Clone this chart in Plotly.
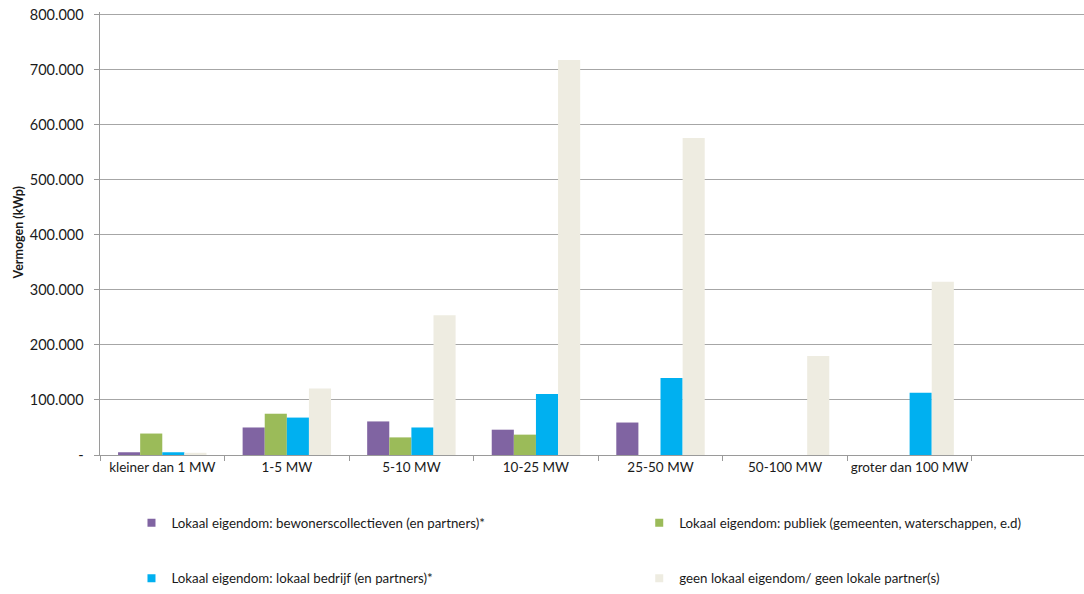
import plotly.graph_objects as go

categories = ["kleiner dan 1 MW", "1-5 MW", "5-10 MW", "10-25 MW", "25-50 MW",
              "50-100 MW", "groter dan 100 MW", ""]

series_names = [
    "Lokaal eigendom: bewonerscollectieven (en partners)*",
    "Lokaal eigendom: publiek (gemeenten, waterschappen, e.d)",
    "Lokaal eigendom: lokaal bedrijf (en partners)*",
    "geen lokaal eigendom/ geen lokale partner(s)",
]
bewoners = [5000, 50000, 61000, 46000, 59000, 0, 0, None]
publiek = [39000, 75000, 32000, 37000, 0, 0, 0, None]
bedrijf = [5000, 68000, 50000, 111000, 140000, 0, 113000, None]
geen = [4000, 121000, 254000, 718000, 576000, 180000, 315000, None]

y_tick_vals = [0, 100000, 200000, 300000, 400000, 500000, 600000, 700000, 800000]
y_tick_labels = ["-", "100.000", "200.000", "300.000", "400.000", "500.000",
                 "600.000", "700.000", "800.000"]
y_title = "Vermogen (kWp)"

colors = ["#8064A2", "#9BBB59", "#00B0F0", "#EEECE1"]
values = [bewoners, publiek, bedrijf, geen]
legend_ids = ["legend", "legend2", "legend3", "legend4"]

FONT = "Lato"
PAD = "\u00a0\u00a0"  # extra gap between tick labels and axis

fig = go.Figure()
for name, vals, col in zip(series_names, values, colors):
    fig.add_trace(go.Bar(x=categories, y=vals, name=name, marker_color=col,
                         marker_line_width=0, showlegend=False))
# legend-only entries with small square swatches
for name, col, lg in zip(series_names, colors, legend_ids):
    fig.add_trace(go.Scatter(x=[None], y=[None], mode="markers", name=name,
                             marker=dict(symbol="square", size=8, color=col),
                             legend=lg, showlegend=True))

legend_pos = {"legend": (0.032, -0.151), "legend2": (0.548, -0.151),
              "legend3": (0.032, -0.279), "legend4": (0.548, -0.279)}

layout_legends = {}
for lg, (lx, ly) in legend_pos.items():
    layout_legends[lg] = dict(x=lx, y=ly, xanchor="left", yanchor="middle",
                              font=dict(family=FONT, size=13.3, color="#1a1a1a"),
                              bgcolor="rgba(0,0,0,0)", itemwidth=30)

fig.update_layout(
    width=1084, height=594,
    margin=dict(l=100, r=0, t=12, b=138),
    paper_bgcolor="white", plot_bgcolor="white",
    barmode="group", bargap=0.29, bargroupgap=0,
    font=dict(family=FONT, size=12, color="#1a1a1a"),
    **layout_legends,
)

fig.add_annotation(text="<b>" + y_title + "</b>", xref="paper", yref="paper",
                   x=-0.0833, y=0.5, xanchor="center", yanchor="middle",
                   textangle=-90, showarrow=False,
                   font=dict(family=FONT, size=12.5, color="#1a1a1a"))

fig.update_xaxes(
    type="category", range=[-0.5, 7.40], automargin=False,
    showline=True, linecolor="#9a9a9a", linewidth=1,
    ticks="outside", tickson="boundaries", ticklen=5, tickcolor="#9a9a9a",
    tickangle=0,
    showgrid=False, tickfont=dict(family=FONT, size=13.5),
)
fig.update_yaxes(
    range=[0, 805000], tickvals=y_tick_vals,
    ticktext=[t + PAD for t in y_tick_labels],
    automargin=False,
    showline=True, linecolor="#9a9a9a", linewidth=1,
    ticks="outside", ticklen=5, tickcolor="#9a9a9a",
    showgrid=True, gridcolor="#a6a6a6", gridwidth=1,
    zeroline=False,
    tickfont=dict(family=FONT, size=14.5),
)

fig.write_html("out.html", config={"displayModeBar": False},
               post_script="document.body.style.margin='0px';")
